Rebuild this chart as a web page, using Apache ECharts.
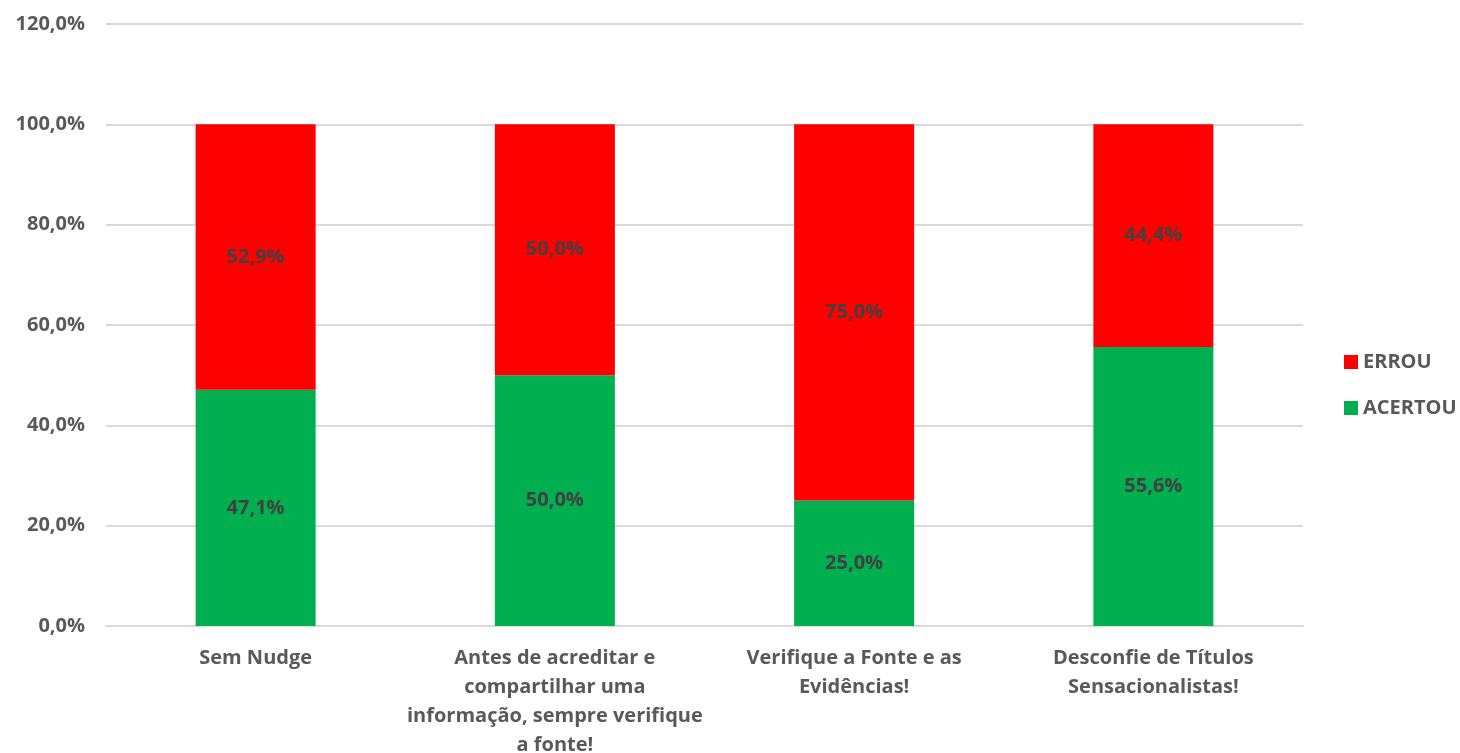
<!DOCTYPE html>
<html><head><meta charset="utf-8">
<script src="https://cdn.jsdelivr.net/npm/echarts@6/dist/echarts.min.js"></script>
<style>html,body{margin:0;padding:0;background:#fff}#c{width:1460px;height:753px}</style>
</head><body><div id="c"></div>
<script>
const categories = ["Sem Nudge", "Antes de acreditar e\ncompartilhar uma\ninformação, sempre verifique\na fonte!", "Verifique a Fonte e as\nEvidências!", "Desconfie de Títulos\nSensacionalistas!"];
const acertou = [47.1, 50.0, 25.0, 55.6];
const errou = [52.9, 50.0, 75.0, 44.4];
const yTicks = {min: 0, max: 120, interval: 20};

const FONT = "Open Sans";
const FS = 20;
const fmt = v => v.toFixed(1).replace('.', ',') + '%';
const chart = echarts.init(document.getElementById('c'));
chart.setOption({
  animation: false,
  grid: {left: 106, right: 157, top: 24, bottom: 127, outerBoundsMode: 'none', containLabel: false},
  legend: {
    orient: 'vertical', left: 1344, top: 352, padding: 0, itemWidth: 14, itemHeight: 14, itemGap: 26,
    data: ['ERROU', 'ACERTOU'],
    textStyle: {color: '#595959', fontFamily: FONT, fontWeight: 'bold', fontSize: FS},
    icon: 'rect'
  },
  xAxis: {
    type: 'category', data: categories,
    axisLine: {lineStyle: {color: '#d9d9d9', width: 2}},
    axisTick: {show: false},
    axisLabel: {color: '#595959', fontFamily: FONT, fontWeight: 'bold', fontSize: FS, lineHeight: 29, margin: 18, interval: 0}
  },
  yAxis: {
    type: 'value', min: yTicks.min, max: yTicks.max, interval: yTicks.interval,
    axisLine: {show: false}, axisTick: {show: false},
    splitLine: {lineStyle: {color: '#d9d9d9', width: 2}},
    axisLabel: {color: '#595959', fontFamily: FONT, fontWeight: 'bold', fontSize: FS, margin: 21, formatter: v => fmt(v)}
  },
  series: [
    {name: 'ACERTOU', type: 'bar', stack: 't', data: acertou, barWidth: 120, itemStyle: {color: '#00b050'},
     label: {show: true, position: 'inside', color: '#404040', fontFamily: FONT, fontWeight: 'bold', fontSize: FS, formatter: p => fmt(p.value)}},
    {name: 'ERROU', type: 'bar', stack: 't', data: errou, barWidth: 120, itemStyle: {color: '#ff0000'},
     label: {show: true, position: 'inside', color: '#404040', fontFamily: FONT, fontWeight: 'bold', fontSize: FS, formatter: p => fmt(p.value)}}
  ]
});
</script></body></html>
